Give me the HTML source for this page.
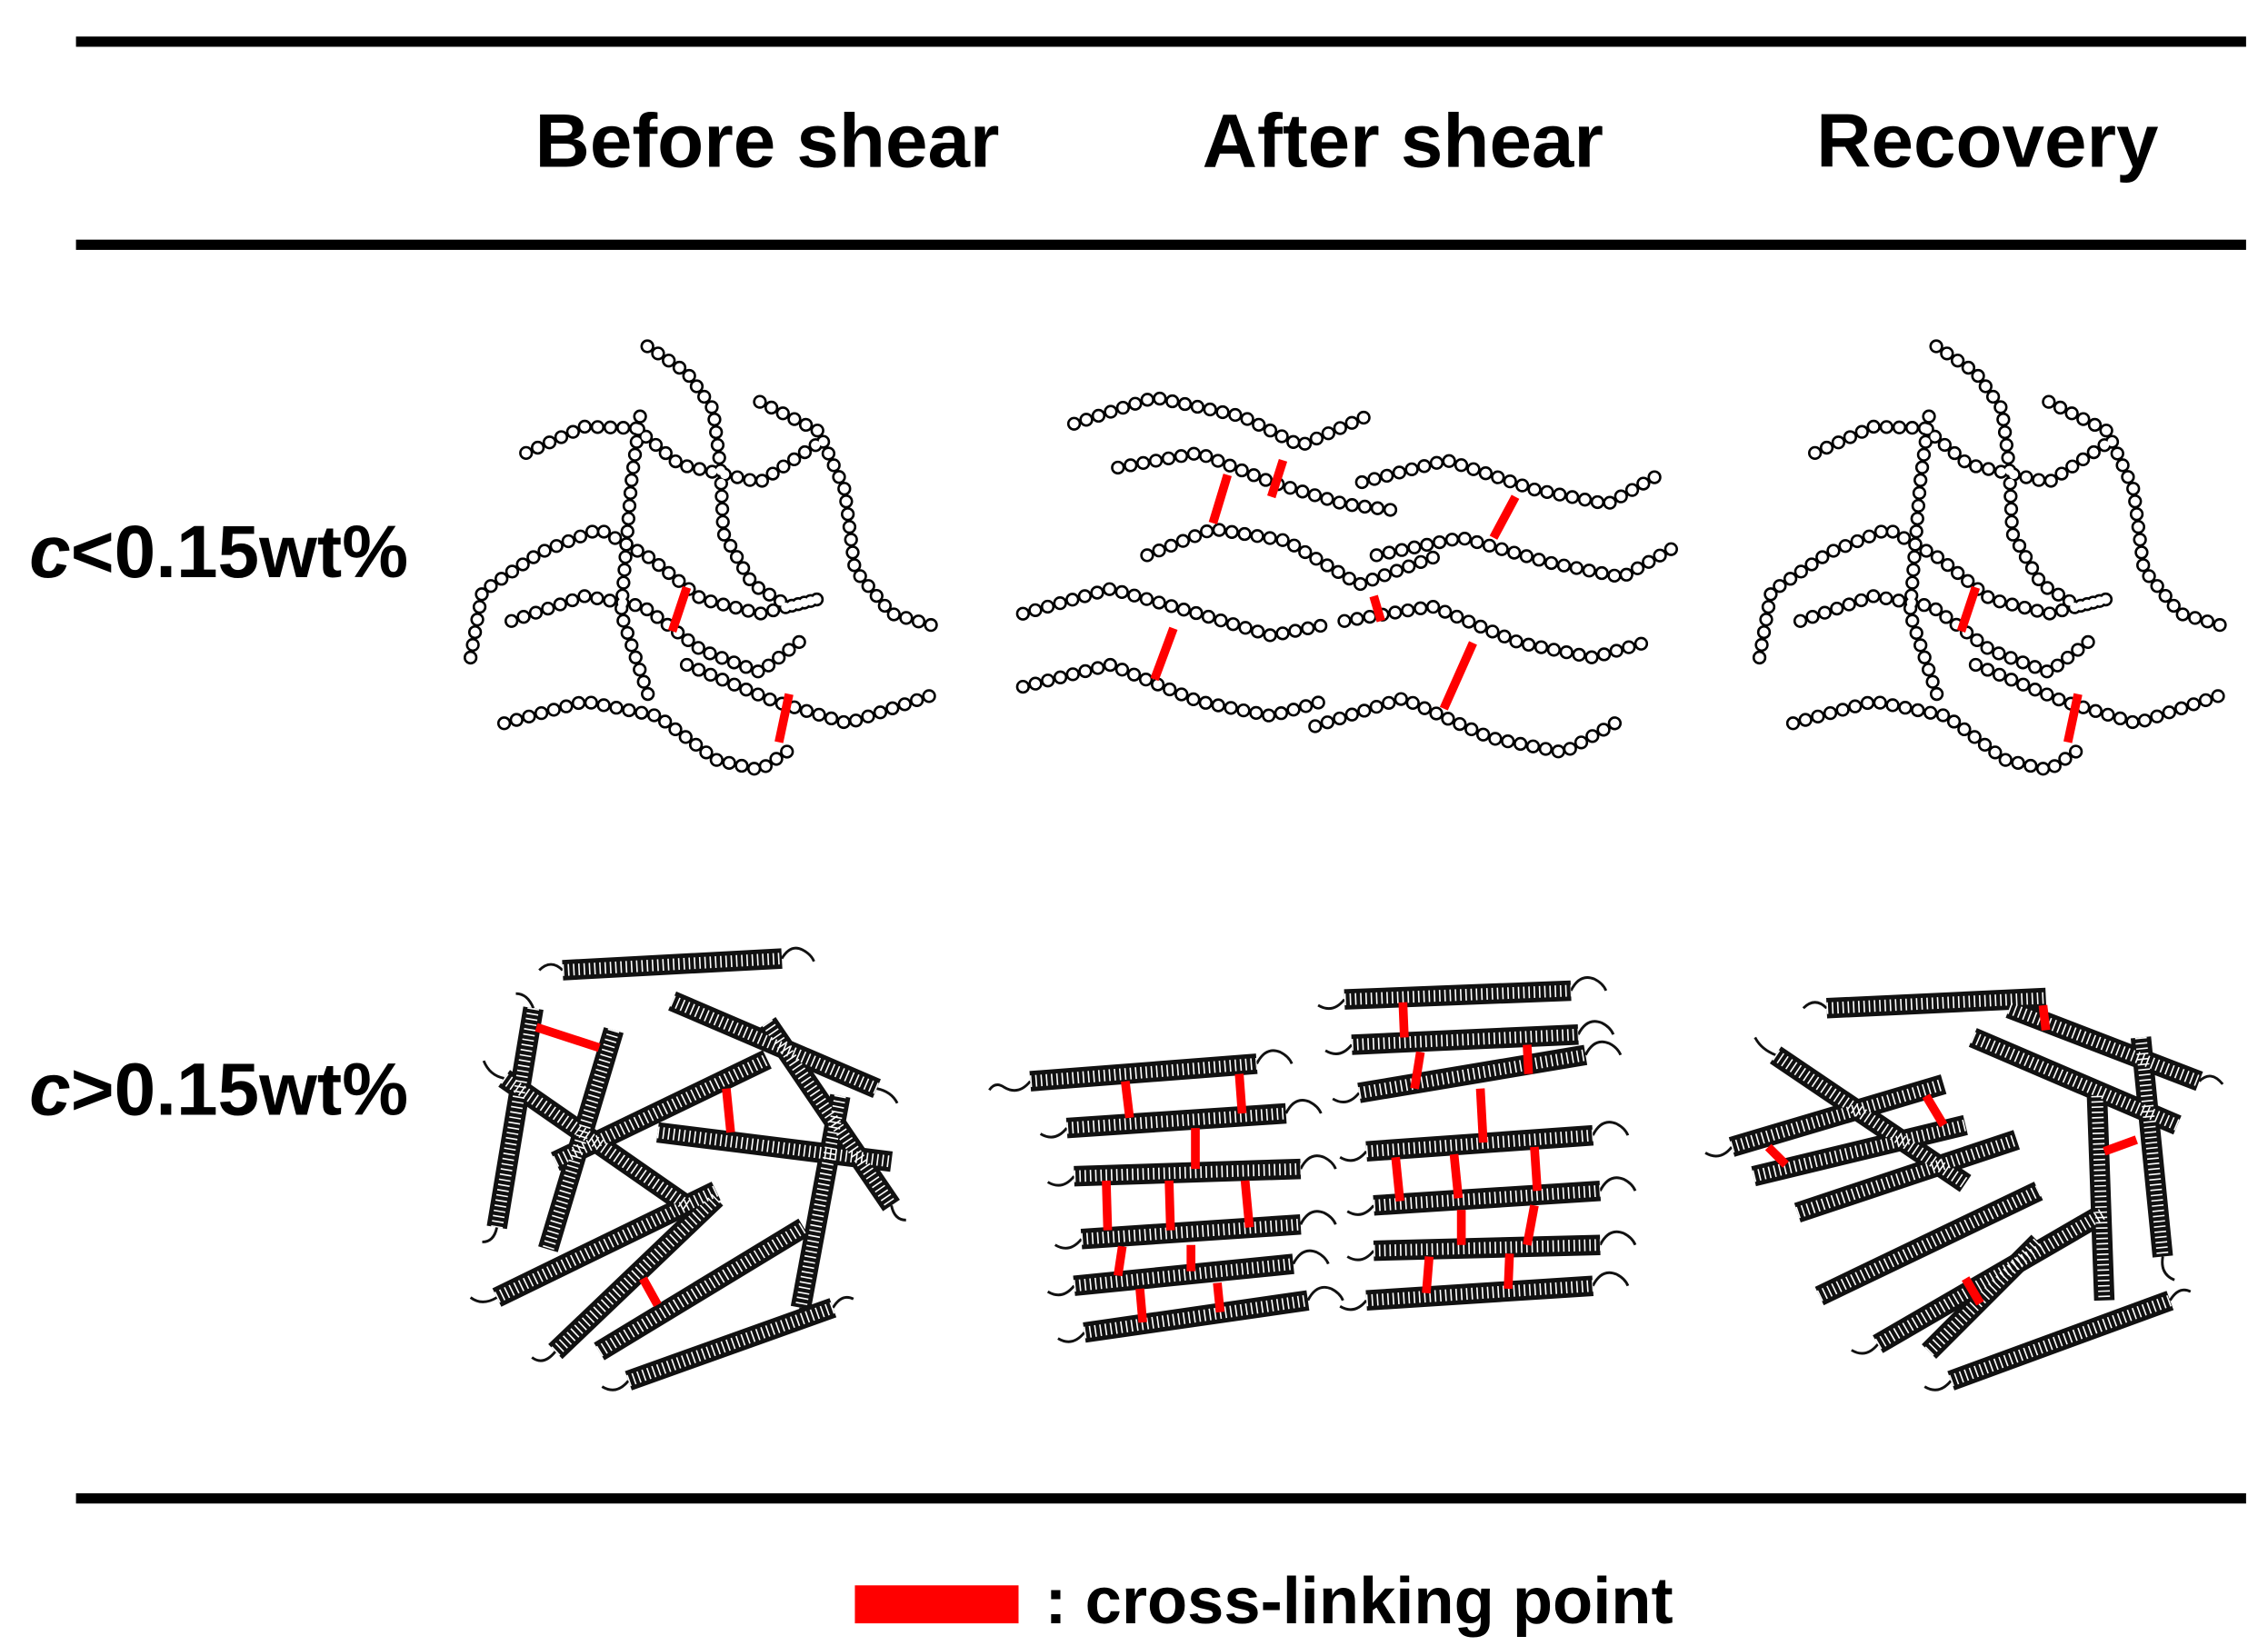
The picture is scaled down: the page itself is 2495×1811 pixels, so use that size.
<!DOCTYPE html>
<html><head><meta charset="utf-8"><style>
html,body{margin:0;padding:0;background:#fff}
svg{display:block}
.k{fill:none;stroke:#000;stroke-width:9.5;stroke-linecap:round;stroke-linejoin:round;stroke-dasharray:0 8.8}
.w{fill:none;stroke:#fff;stroke-width:6.3;stroke-linecap:round;stroke-linejoin:round;stroke-dasharray:0 8.8}
.sk{fill:none;stroke:#111;stroke-width:14}
.sw{fill:none;stroke:#fff;stroke-width:8;stroke-dasharray:1 2.6}
.tl{fill:none;stroke:#111;stroke-width:1.8}
.r line{stroke:#f00;stroke-width:6}
text{font-family:"Liberation Sans",Arial,sans-serif;font-weight:bold;fill:#000}
</style></head><body>
<svg width="2495" height="1811" viewBox="0 0 1552 1126.5" xmlns="http://www.w3.org/2000/svg">
<defs>
<g id="lowA">
<polyline points="443,237 470,255 488,280 493,320 495,365 515,400 540,415 560,410"/>
<polyline points="360,310 400,292 435,293 465,318 520,330 565,300"/>
<polyline points="520,275 560,295 578,335 585,390 610,420 645,430"/>
<polyline points="322,450 330,405 370,378 410,362 445,382 480,410 520,420 560,410"/>
<polyline points="350,425 400,408 440,415 480,445 520,460 550,437"/>
<polyline points="345,495 400,480 450,490 490,520 520,527 545,510"/>
<polyline points="438,285 432,330 425,420 445,480"/>
<polyline points="470,455 530,480 580,495 640,475"/>
</g>
<g id="lowB">
<polyline points="735,290 790,272 850,285 890,305 935,285"/>
<polyline points="765,320 820,310 870,330 920,345 960,350"/>
<polyline points="785,380 830,362 880,370 930,400 985,380"/>
<polyline points="932,330 990,315 1050,335 1100,345 1135,325"/>
<polyline points="942,380 1000,368 1060,385 1110,395 1145,375"/>
<polyline points="700,420 760,403 820,420 870,435 905,428"/>
<polyline points="700,470 760,455 820,480 870,490 905,480"/>
<polyline points="920,425 980,415 1040,440 1090,450 1125,440"/>
<polyline points="900,497 960,478 1020,505 1070,515 1105,495"/>
</g>
<g id="sprA">
<line x1="385" y1="664" x2="535" y2="656"/>
<line x1="365" y1="690" x2="340" y2="840"/>
<line x1="420" y1="705" x2="375" y2="855"/>
<line x1="345" y1="738" x2="470" y2="825"/>
<line x1="460" y1="685" x2="600" y2="745"/>
<line x1="380" y1="795" x2="525" y2="725"/>
<line x1="450" y1="775" x2="610" y2="795"/>
<line x1="525" y1="700" x2="610" y2="825"/>
<line x1="575" y1="750" x2="548" y2="895"/>
<line x1="340" y1="888" x2="490" y2="815"/>
<line x1="380" y1="925" x2="490" y2="820"/>
<line x1="410" y1="925" x2="550" y2="840"/>
<line x1="430" y1="945" x2="570" y2="895"/>
</g>
<g id="sprB">
<line x1="705" y1="740" x2="860" y2="728"/>
<line x1="730" y1="772" x2="880" y2="762"/>
<line x1="735" y1="805" x2="890" y2="800"/>
<line x1="740" y1="848" x2="890" y2="838"/>
<line x1="735" y1="880" x2="885" y2="865"/>
<line x1="742" y1="912" x2="895" y2="890"/>
<line x1="920" y1="684" x2="1075" y2="678"/>
<line x1="925" y1="715" x2="1080" y2="708"/>
<line x1="930" y1="748" x2="1085" y2="722"/>
<line x1="935" y1="788" x2="1090" y2="777"/>
<line x1="940" y1="825" x2="1095" y2="815"/>
<line x1="940" y1="856" x2="1095" y2="852"/>
<line x1="935" y1="890" x2="1090" y2="880"/>
</g>
<g id="sprC">
<line x1="1250" y1="690" x2="1400" y2="683"/>
<line x1="1375" y1="690" x2="1505" y2="740"/>
<line x1="1350" y1="710" x2="1490" y2="770"/>
<line x1="1215" y1="722" x2="1345" y2="810"/>
<line x1="1185" y1="785" x2="1330" y2="742"/>
<line x1="1200" y1="805" x2="1345" y2="770"/>
<line x1="1230" y1="830" x2="1380" y2="780"/>
<line x1="1245" y1="887" x2="1395" y2="815"/>
<line x1="1285" y1="920" x2="1440" y2="830"/>
<line x1="1320" y1="925" x2="1395" y2="850"/>
<line x1="1335" y1="945" x2="1485" y2="890"/>
<line x1="1465" y1="710" x2="1480" y2="860"/>
<line x1="1435" y1="750" x2="1440" y2="890"/>
</g>
</defs>

<rect x="52" y="25" width="1485" height="7" fill="#000"/>
<rect x="52" y="164" width="1485" height="7" fill="#000"/>
<rect x="52" y="1022" width="1485" height="7" fill="#000"/>

<text x="525" y="114" font-size="52" text-anchor="middle">Before shear</text>
<text x="960" y="114" font-size="52" text-anchor="middle">After shear</text>
<text x="1360" y="114" font-size="52" text-anchor="middle">Recovery</text>
<text x="20" y="395" font-size="51"><tspan font-style="italic">c</tspan>&lt;0.15wt%</text>
<text x="20" y="763" font-size="51"><tspan font-style="italic">c</tspan>&gt;0.15wt%</text>

<use href="#lowA" class="k"/><use href="#lowA" class="w"/>
<g transform="translate(882,0)"><use href="#lowA" class="k"/><use href="#lowA" class="w"/></g>
<use href="#lowB" class="k"/><use href="#lowB" class="w"/>

<g class="r">
<line x1="460" y1="432" x2="470" y2="402"/><line x1="533" y1="508" x2="540" y2="475"/>
<line x1="1342" y1="432" x2="1352" y2="402"/><line x1="1415" y1="508" x2="1422" y2="475"/>
<line x1="830" y1="358" x2="840" y2="325"/><line x1="870" y1="340" x2="878" y2="315"/>
<line x1="1022" y1="368" x2="1037" y2="340"/><line x1="940" y1="408" x2="945" y2="425"/>
<line x1="790" y1="465" x2="803" y2="430"/><line x1="988" y1="485" x2="1008" y2="440"/>
</g>

<g class="tl">
<path d="M705,740 q-8,10 -18,4 q-6,-4 -10,2"/><path d="M860,728 q6,-12 16,-8 q6,3 8,8"/>
<path d="M730,772 q-8,10 -18,4"/><path d="M880,762 q6,-12 16,-8 q6,3 8,8"/>
<path d="M735,805 q-8,10 -18,4"/><path d="M890,800 q6,-12 16,-8 q6,3 8,8"/>
<path d="M740,848 q-8,10 -18,4"/><path d="M890,838 q6,-12 16,-8 q6,3 8,8"/>
<path d="M735,880 q-8,10 -18,4"/><path d="M885,865 q6,-12 16,-8 q6,3 8,8"/>
<path d="M742,912 q-8,10 -18,4"/><path d="M895,890 q6,-12 16,-8 q6,3 8,8"/>
<path d="M920,684 q-8,10 -18,4"/><path d="M1075,678 q6,-12 16,-8 q6,3 8,8"/>
<path d="M925,715 q-8,10 -18,4"/><path d="M1080,708 q6,-12 16,-8 q6,3 8,8"/>
<path d="M930,748 q-8,10 -18,4"/><path d="M1085,722 q6,-12 16,-8 q6,3 8,8"/>
<path d="M935,788 q-8,10 -18,4"/><path d="M1090,777 q6,-12 16,-8 q6,3 8,8"/>
<path d="M940,825 q-8,10 -18,4"/><path d="M1095,815 q6,-12 16,-8 q6,3 8,8"/>
<path d="M940,856 q-8,10 -18,4"/><path d="M1095,852 q6,-12 16,-8 q6,3 8,8"/>
<path d="M935,890 q-8,10 -18,4"/><path d="M1090,880 q6,-12 16,-8 q6,3 8,8"/>
<path d="M385,664 q-8,-8 -16,0"/><path d="M535,656 q6,-10 14,-6 q6,3 8,8"/>
<path d="M365,690 q-4,-10 -12,-10"/><path d="M340,840 q-2,10 -10,10"/>
<path d="M345,738 q-10,-2 -14,-12"/><path d="M600,745 q10,2 14,10"/>
<path d="M340,888 q-10,6 -18,0"/><path d="M380,925 q-8,10 -16,4"/>
<path d="M430,945 q-8,10 -18,4"/><path d="M570,895 q6,-10 14,-6"/>
<path d="M610,825 q2,10 10,10"/><path d="M548,895 q-2,10 -10,12"/>
<path d="M1250,690 q-8,-8 -16,0"/><path d="M1505,740 q8,-8 16,2"/>
<path d="M1185,785 q-8,10 -18,4"/><path d="M1335,945 q-8,10 -18,4"/>
<path d="M1485,890 q6,-10 14,-6"/><path d="M1480,860 q-2,12 8,16"/>
<path d="M1215,722 q-10,-4 -14,-12"/><path d="M1285,920 q-8,10 -18,4"/>
</g>

<use href="#sprA" class="sk"/><use href="#sprA" class="sw"/>
<use href="#sprB" class="sk"/><use href="#sprB" class="sw"/>
<use href="#sprC" class="sk"/><use href="#sprC" class="sw"/>

<g class="r">
<line x1="367" y1="703" x2="410" y2="717"/><line x1="497" y1="745" x2="500" y2="775"/><line x1="440" y1="875" x2="450" y2="893"/>
<line x1="770" y1="740" x2="773" y2="765"/><line x1="848" y1="735" x2="850" y2="762"/>
<line x1="818" y1="772" x2="818" y2="800"/>
<line x1="757" y1="808" x2="758" y2="842"/><line x1="800" y1="808" x2="801" y2="842"/><line x1="852" y1="808" x2="855" y2="840"/>
<line x1="768" y1="853" x2="765" y2="873"/><line x1="815" y1="852" x2="815" y2="870"/>
<line x1="780" y1="882" x2="782" y2="905"/><line x1="833" y1="878" x2="835" y2="898"/>
<line x1="960" y1="686" x2="961" y2="710"/>
<line x1="972" y1="720" x2="968" y2="745"/><line x1="1045" y1="715" x2="1046" y2="735"/>
<line x1="1013" y1="745" x2="1015" y2="782"/>
<line x1="955" y1="792" x2="958" y2="822"/><line x1="995" y1="790" x2="998" y2="820"/><line x1="1050" y1="785" x2="1052" y2="815"/>
<line x1="1000" y1="828" x2="1000" y2="852"/><line x1="1050" y1="825" x2="1045" y2="852"/>
<line x1="978" y1="860" x2="976" y2="885"/><line x1="1033" y1="858" x2="1032" y2="882"/>
<line x1="1398" y1="688" x2="1400" y2="705"/><line x1="1318" y1="750" x2="1330" y2="770"/><line x1="1210" y1="785" x2="1222" y2="797"/>
<line x1="1440" y1="788" x2="1462" y2="780"/><line x1="1345" y1="875" x2="1355" y2="892"/>
</g>

<rect x="585" y="1085" width="112" height="26" fill="#f00"/>
<text x="715" y="1111" font-size="45">: cross-linking point</text>
</svg>
</body></html>
